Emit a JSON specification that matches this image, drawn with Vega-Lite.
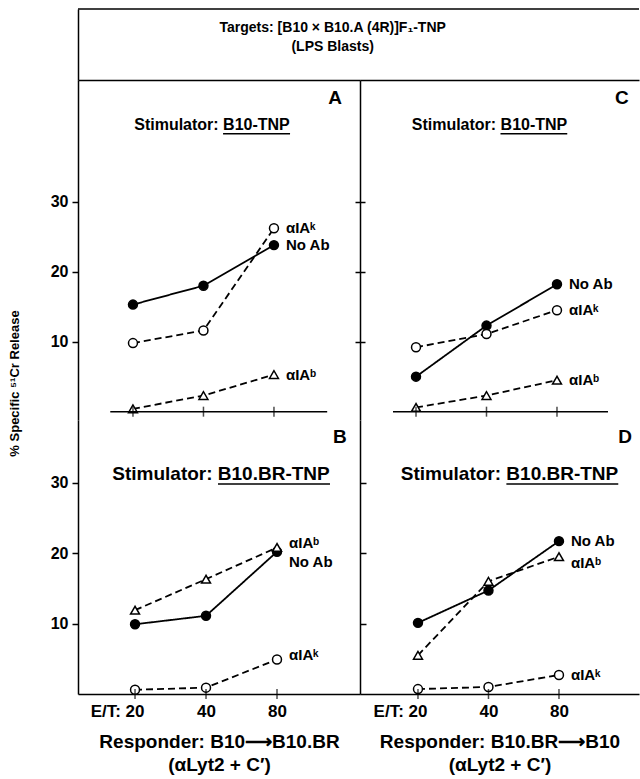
{
  "$schema": "https://vega.github.io/schema/vega-lite/v6.json",
  "padding": {"left": 8, "top": 8, "right": 0, "bottom": 4},
  "background": "white",
  "config": {
    "font": "Liberation Sans",
    "view": {"stroke": null},
    "axis": {"grid": false, "domainColor": "black", "domainWidth": 1.5, "tickColor": "black", "tickWidth": 1.5, "labelColor": "black", "titleColor": "black", "labelFont": "Liberation Sans", "titleFont": "Liberation Sans", "labelFontSize": 16, "labelFontWeight": "bold", "titleFontSize": 13, "titleFontWeight": "bold", "labelFlush": false},
    "text": {"font": "Liberation Sans", "color": "black"}
  },
  "datasets": {
    "cyto": [
      {"panel": "A", "series": "No Ab", "et": 20, "pct": 15.3},
      {"panel": "A", "series": "No Ab", "et": 40, "pct": 18.0},
      {"panel": "A", "series": "No Ab", "et": 80, "pct": 23.8},
      {"panel": "A", "series": "αIAᵏ", "et": 20, "pct": 9.8},
      {"panel": "A", "series": "αIAᵏ", "et": 40, "pct": 11.6},
      {"panel": "A", "series": "αIAᵏ", "et": 80, "pct": 26.2},
      {"panel": "A", "series": "αIAᵇ", "et": 20, "pct": 0.4},
      {"panel": "A", "series": "αIAᵇ", "et": 40, "pct": 2.3},
      {"panel": "A", "series": "αIAᵇ", "et": 80, "pct": 5.3},
      {"panel": "C", "series": "No Ab", "et": 20, "pct": 5.0},
      {"panel": "C", "series": "No Ab", "et": 40, "pct": 12.3},
      {"panel": "C", "series": "No Ab", "et": 80, "pct": 18.2},
      {"panel": "C", "series": "αIAᵏ", "et": 20, "pct": 9.2},
      {"panel": "C", "series": "αIAᵏ", "et": 40, "pct": 11.1},
      {"panel": "C", "series": "αIAᵏ", "et": 80, "pct": 14.5},
      {"panel": "C", "series": "αIAᵇ", "et": 20, "pct": 0.6},
      {"panel": "C", "series": "αIAᵇ", "et": 40, "pct": 2.3},
      {"panel": "C", "series": "αIAᵇ", "et": 80, "pct": 4.5},
      {"panel": "B", "series": "No Ab", "et": 20, "pct": 9.9},
      {"panel": "B", "series": "No Ab", "et": 40, "pct": 11.1},
      {"panel": "B", "series": "No Ab", "et": 80, "pct": 20.2},
      {"panel": "B", "series": "αIAᵇ", "et": 20, "pct": 11.9},
      {"panel": "B", "series": "αIAᵇ", "et": 40, "pct": 16.3},
      {"panel": "B", "series": "αIAᵇ", "et": 80, "pct": 20.8},
      {"panel": "B", "series": "αIAᵏ", "et": 20, "pct": 0.6},
      {"panel": "B", "series": "αIAᵏ", "et": 40, "pct": 0.9},
      {"panel": "B", "series": "αIAᵏ", "et": 80, "pct": 4.9},
      {"panel": "D", "series": "No Ab", "et": 20, "pct": 10.1},
      {"panel": "D", "series": "No Ab", "et": 40, "pct": 14.7},
      {"panel": "D", "series": "No Ab", "et": 80, "pct": 21.7},
      {"panel": "D", "series": "αIAᵇ", "et": 20, "pct": 5.5},
      {"panel": "D", "series": "αIAᵇ", "et": 40, "pct": 16.0},
      {"panel": "D", "series": "αIAᵇ", "et": 80, "pct": 19.5},
      {"panel": "D", "series": "αIAᵏ", "et": 20, "pct": 0.7},
      {"panel": "D", "series": "αIAᵏ", "et": 40, "pct": 1.0},
      {"panel": "D", "series": "αIAᵏ", "et": 80, "pct": 2.7}
    ]
  },
  "spacing": 0,
  "bounds": "flush",
  "vconcat": [
    {
      "width": 561, "height": 71,
      "resolve": {"axis": {"x": "independent", "y": "independent"}},
      "layer": [
        {
          "data": {"values": [{"row": 1, "line": "Targets: [B10 × B10.A (4R)]F₁-TNP"}, {"row": 2, "line": "(LPS Blasts)"}]},
          "mark": {"type": "text", "fontSize": 14, "fontWeight": "bold", "align": "center", "baseline": "middle"},
          "encoding": {
            "x": {"datum": 0.454, "type": "quantitative", "scale": {"domain": [0, 1]}, "axis": null},
            "y": {"field": "row", "type": "quantitative", "scale": {"domain": [0, 3.7], "reverse": true, "nice": false, "zero": false}, "axis": {"orient": "left", "domain": true, "ticks": false, "labels": false, "title": null}},
            "text": {"field": "line"}
          }
        },
        {
          "data": {"values": [{}]},
          "mark": {"type": "rule", "strokeWidth": 1.5, "color": "black"},
          "encoding": {"y": {"datum": 0, "type": "quantitative", "axis": null}}
        }
      ]
    },
    {
      "columns": 2, "spacing": 0, "bounds": "flush",
      "concat": [
        {
          "width": 282, "height": 340,
          "resolve": {"axis": {"x": "independent", "y": "independent"}},
          "layer": [
            {
              "data": {"name": "cyto"}, "transform": [{"filter": "datum.panel == 'A'"}],
              "mark": {"type": "line", "color": "black", "strokeWidth": 1.8},
              "encoding": {
                "x": {"field": "et", "type": "quantitative", "scale": {"type": "log", "base": 2, "domain": [11.65, 186.4], "nice": false}, "axis": {"orient": "top", "domain": true, "ticks": false, "labels": false, "title": null}},
                "y": {"field": "pct", "type": "quantitative", "scale": {"domain": [-1.19, 47.39], "nice": false, "zero": false}, "axis": {"orient": "left", "values": [10, 20, 30], "tickSize": 6, "labelPadding": 4, "title": "% Specific ⁵¹Cr Release", "titlePadding": 29, "titleY": 303}},
                "strokeDash": {"field": "series", "type": "nominal", "scale": {"domain": ["No Ab", "αIAᵏ", "αIAᵇ"], "range": [[1, 0], [7, 4], [7, 4]]}, "legend": null}
              }
            },
            {
              "data": {"name": "cyto"}, "transform": [{"filter": "datum.panel == 'A'"}],
              "mark": {"type": "point", "filled": true, "stroke": "black", "strokeWidth": 1.5, "size": 80, "opacity": 1},
              "encoding": {
                "x": {"field": "et", "type": "quantitative", "axis": null},
                "y": {"field": "pct", "type": "quantitative", "axis": {"orient": "right", "values": [10, 20, 30], "domain": false, "labels": false, "title": null, "tickSize": 5}},
                "shape": {"field": "series", "type": "nominal", "scale": {"domain": ["No Ab", "αIAᵏ", "αIAᵇ"], "range": ["circle", "circle", "triangle-up"]}, "legend": null},
                "fill": {"field": "series", "type": "nominal", "scale": {"domain": ["No Ab", "αIAᵏ", "αIAᵇ"], "range": ["black", "white", "white"]}, "legend": null}
              }
            },
            {
              "data": {"name": "cyto"}, "transform": [{"filter": "datum.panel == 'A' && datum.et == 80"}],
              "mark": {"type": "text", "align": "left", "baseline": "middle", "dx": 12, "fontSize": 15, "fontWeight": "bold"},
              "encoding": {
                "x": {"field": "et", "type": "quantitative", "axis": null},
                "y": {"field": "pct", "type": "quantitative", "axis": null},
                "text": {"field": "series"}
              }
            },
            {
              "data": {"name": "cyto"}, "transform": [{"filter": "datum.panel == 'A' && datum.series == 'No Ab'"}],
              "mark": {"type": "tick", "orient": "vertical", "size": 10, "thickness": 1.5, "color": "black"},
              "encoding": {
                "x": {"field": "et", "type": "quantitative", "axis": null},
                "y": {"datum": 0, "type": "quantitative", "axis": null}
              }
            },
            {
              "data": {"values": [{}]},
              "mark": {"type": "rule", "strokeWidth": 1.5, "color": "black"},
              "encoding": {"x": {"datum": 16, "type": "quantitative", "axis": null}, "x2": {"datum": 135}, "y": {"datum": 0, "type": "quantitative", "axis": null}}
            },
            {
              "data": {"values": [{"t": "Stimulator: B10-TNP"}]},
              "mark": {"type": "text", "fontSize": 16, "fontWeight": "bold", "align": "center", "baseline": "middle"},
              "encoding": {"x": {"datum": 43.5, "type": "quantitative", "axis": null}, "y": {"datum": 41.0, "type": "quantitative", "axis": null}, "text": {"field": "t"}}
            },
            {
              "data": {"values": [{}]},
              "mark": {"type": "rule", "strokeWidth": 1.5, "color": "black"},
              "encoding": {"x": {"datum": 48.5, "type": "quantitative", "axis": null}, "x2": {"datum": 93.7}, "y": {"datum": 39.7, "type": "quantitative", "axis": null}}
            },
            {
              "data": {"values": [{"t": "A"}]},
              "mark": {"type": "text", "fontSize": 19, "fontWeight": "bold", "align": "center", "baseline": "middle"},
              "encoding": {"x": {"datum": 145.8, "type": "quantitative", "axis": null}, "y": {"datum": 44.8, "type": "quantitative", "axis": null}, "text": {"field": "t"}}
            }
          ]
        },
        {
          "width": 279, "height": 340,
          "resolve": {"axis": {"x": "independent", "y": "independent"}},
          "layer": [
            {
              "data": {"name": "cyto"}, "transform": [{"filter": "datum.panel == 'C'"}],
              "mark": {"type": "line", "color": "black", "strokeWidth": 1.8},
              "encoding": {
                "x": {"field": "et", "type": "quantitative", "scale": {"type": "log", "base": 2, "domain": [11.53, 179.2], "nice": false}, "axis": {"orient": "top", "domain": true, "ticks": false, "labels": false, "title": null}},
                "y": {"field": "pct", "type": "quantitative", "scale": {"domain": [-1.19, 47.39], "nice": false, "zero": false}, "axis": {"orient": "left", "values": [10, 20, 30], "tickSize": 5, "labels": false, "title": null, "domain": true}},
                "strokeDash": {"field": "series", "type": "nominal", "scale": {"domain": ["No Ab", "αIAᵏ", "αIAᵇ"], "range": [[1, 0], [7, 4], [7, 4]]}, "legend": null}
              }
            },
            {
              "data": {"name": "cyto"}, "transform": [{"filter": "datum.panel == 'C'"}],
              "mark": {"type": "point", "filled": true, "stroke": "black", "strokeWidth": 1.5, "size": 80, "opacity": 1},
              "encoding": {
                "x": {"field": "et", "type": "quantitative", "axis": null},
                "y": {"field": "pct", "type": "quantitative", "axis": null},
                "shape": {"field": "series", "type": "nominal", "scale": {"domain": ["No Ab", "αIAᵏ", "αIAᵇ"], "range": ["circle", "circle", "triangle-up"]}, "legend": null},
                "fill": {"field": "series", "type": "nominal", "scale": {"domain": ["No Ab", "αIAᵏ", "αIAᵇ"], "range": ["black", "white", "white"]}, "legend": null}
              }
            },
            {
              "data": {"name": "cyto"}, "transform": [{"filter": "datum.panel == 'C' && datum.et == 80"}],
              "mark": {"type": "text", "align": "left", "baseline": "middle", "dx": 12, "fontSize": 15, "fontWeight": "bold"},
              "encoding": {
                "x": {"field": "et", "type": "quantitative", "axis": null},
                "y": {"field": "pct", "type": "quantitative", "axis": null},
                "text": {"field": "series"}
              }
            },
            {
              "data": {"name": "cyto"}, "transform": [{"filter": "datum.panel == 'C' && datum.series == 'No Ab'"}],
              "mark": {"type": "tick", "orient": "vertical", "size": 10, "thickness": 1.5, "color": "black"},
              "encoding": {
                "x": {"field": "et", "type": "quantitative", "axis": null},
                "y": {"datum": 0, "type": "quantitative", "axis": null}
              }
            },
            {
              "data": {"values": [{}]},
              "mark": {"type": "rule", "strokeWidth": 1.5, "color": "black"},
              "encoding": {"x": {"datum": 15.95, "type": "quantitative", "axis": null}, "x2": {"datum": 132.1}, "y": {"datum": 0, "type": "quantitative", "axis": null}}
            },
            {
              "data": {"values": [{"t": "Stimulator: B10-TNP"}]},
              "mark": {"type": "text", "fontSize": 16, "fontWeight": "bold", "align": "center", "baseline": "middle"},
              "encoding": {"x": {"datum": 41.2, "type": "quantitative", "axis": null}, "y": {"datum": 41.0, "type": "quantitative", "axis": null}, "text": {"field": "t"}}
            },
            {
              "data": {"values": [{}]},
              "mark": {"type": "rule", "strokeWidth": 1.5, "color": "black"},
              "encoding": {"x": {"datum": 45.9, "type": "quantitative", "axis": null}, "x2": {"datum": 88.5}, "y": {"datum": 39.7, "type": "quantitative", "axis": null}}
            },
            {
              "data": {"values": [{"t": "C"}]},
              "mark": {"type": "text", "fontSize": 19, "fontWeight": "bold", "align": "center", "baseline": "middle"},
              "encoding": {"x": {"datum": 151.5, "type": "quantitative", "axis": null}, "y": {"datum": 44.8, "type": "quantitative", "axis": null}, "text": {"field": "t"}}
            }
          ]
        },
        {
          "width": 282, "height": 274,
          "resolve": {"axis": {"x": "independent", "y": "independent"}},
          "layer": [
            {
              "data": {"name": "cyto"}, "transform": [{"filter": "datum.panel == 'B'"}],
              "mark": {"type": "line", "color": "black", "strokeWidth": 1.8},
              "encoding": {
                "x": {"field": "et", "type": "quantitative", "scale": {"type": "log", "base": 2, "domain": [11.46, 179.9], "nice": false}, "axis": {"orient": "bottom", "values": [20, 40, 80], "domain": true, "ticks": false, "labelPadding": 9, "labelFontSize": 17, "labelExpr": "datum.value == 20 ? 'E/T: 20' : datum.label", "labelAlign": {"condition": {"test": "datum.value == 20", "value": "right"}, "value": "center"}, "labelOffset": {"condition": {"test": "datum.value == 20", "value": 9}, "value": 0}, "title": ["Responder: B10⟶B10.BR", "(αLyt2 + C′)"], "titleFontSize": 19, "titlePadding": 13, "titleLineHeight": 23}},
                "y": {"field": "pct", "type": "quantitative", "scale": {"domain": [0, 38.9], "nice": false, "zero": false}, "axis": {"orient": "left", "values": [10, 20, 30], "tickSize": 6, "labelPadding": 4, "title": null}},
                "strokeDash": {"field": "series", "type": "nominal", "scale": {"domain": ["No Ab", "αIAᵏ", "αIAᵇ"], "range": [[1, 0], [7, 4], [7, 4]]}, "legend": null}
              }
            },
            {
              "data": {"name": "cyto"}, "transform": [{"filter": "datum.panel == 'B'"}],
              "mark": {"type": "point", "filled": true, "stroke": "black", "strokeWidth": 1.5, "size": 80, "opacity": 1},
              "encoding": {
                "x": {"field": "et", "type": "quantitative", "axis": null},
                "y": {"field": "pct", "type": "quantitative", "axis": {"orient": "right", "values": [10, 20, 30], "domain": false, "labels": false, "title": null, "tickSize": 6}},
                "shape": {"field": "series", "type": "nominal", "scale": {"domain": ["No Ab", "αIAᵏ", "αIAᵇ"], "range": ["circle", "circle", "triangle-up"]}, "legend": null},
                "fill": {"field": "series", "type": "nominal", "scale": {"domain": ["No Ab", "αIAᵏ", "αIAᵇ"], "range": ["black", "white", "white"]}, "legend": null}
              }
            },
            {
              "data": {"name": "cyto"}, "transform": [{"filter": "datum.panel == 'B' && datum.et == 80 && datum.series == 'No Ab'"}],
              "mark": {"type": "text", "align": "left", "baseline": "middle", "dx": 12, "dy": 10, "fontSize": 15, "fontWeight": "bold"},
              "encoding": {
                "x": {"field": "et", "type": "quantitative", "axis": null},
                "y": {"field": "pct", "type": "quantitative", "axis": null},
                "text": {"field": "series"}
              }
            },
            {
              "data": {"name": "cyto"}, "transform": [{"filter": "datum.panel == 'B' && datum.et == 80 && datum.series != 'No Ab'"}],
              "mark": {"type": "text", "align": "left", "baseline": "middle", "dx": 12, "dy": -4, "fontSize": 15, "fontWeight": "bold"},
              "encoding": {
                "x": {"field": "et", "type": "quantitative", "axis": null},
                "y": {"field": "pct", "type": "quantitative", "axis": null},
                "text": {"field": "series"}
              }
            },
            {
              "data": {"name": "cyto"}, "transform": [{"filter": "datum.panel == 'B' && datum.series == 'No Ab'"}],
              "mark": {"type": "tick", "orient": "vertical", "size": 10, "thickness": 1.5, "color": "black"},
              "encoding": {
                "x": {"field": "et", "type": "quantitative", "axis": null},
                "y": {"datum": 0, "type": "quantitative", "axis": null}
              }
            },
            {
              "data": {"values": [{"t": "Stimulator: B10.BR-TNP"}]},
              "mark": {"type": "text", "fontSize": 19, "fontWeight": "bold", "align": "center", "baseline": "middle"},
              "encoding": {"x": {"datum": 46.3, "type": "quantitative", "axis": null}, "y": {"datum": 31.2, "type": "quantitative", "axis": null}, "text": {"field": "t"}}
            },
            {
              "data": {"values": [{}]},
              "mark": {"type": "rule", "strokeWidth": 1.5, "color": "black"},
              "encoding": {"x": {"datum": 44.96, "type": "quantitative", "axis": null}, "x2": {"datum": 134.2}, "y": {"datum": 29.8, "type": "quantitative", "axis": null}}
            },
            {
              "data": {"values": [{"t": "B"}]},
              "mark": {"type": "text", "fontSize": 19, "fontWeight": "bold", "align": "center", "baseline": "middle"},
              "encoding": {"x": {"datum": 147.9, "type": "quantitative", "axis": null}, "y": {"datum": 36.5, "type": "quantitative", "axis": null}, "text": {"field": "t"}}
            }
          ]
        },
        {
          "width": 279, "height": 274,
          "resolve": {"axis": {"x": "independent", "y": "independent"}},
          "layer": [
            {
              "data": {"name": "cyto"}, "transform": [{"filter": "datum.panel == 'D'"}],
              "mark": {"type": "line", "color": "black", "strokeWidth": 1.8},
              "encoding": {
                "x": {"field": "et", "type": "quantitative", "scale": {"type": "log", "base": 2, "domain": [11.31, 175.7], "nice": false}, "axis": {"orient": "bottom", "values": [20, 40, 80], "domain": true, "ticks": false, "labelPadding": 9, "labelFontSize": 17, "labelExpr": "datum.value == 20 ? 'E/T: 20' : datum.label", "labelAlign": {"condition": {"test": "datum.value == 20", "value": "right"}, "value": "center"}, "labelOffset": {"condition": {"test": "datum.value == 20", "value": 9}, "value": 0}, "title": ["Responder: B10.BR⟶B10", "(αLyt2 + C′)"], "titleFontSize": 19, "titlePadding": 13, "titleLineHeight": 23}},
                "y": {"field": "pct", "type": "quantitative", "scale": {"domain": [0, 38.9], "nice": false, "zero": false}, "axis": {"orient": "left", "values": [10, 20, 30], "ticks": false, "labels": false, "title": null, "domain": true}},
                "strokeDash": {"field": "series", "type": "nominal", "scale": {"domain": ["No Ab", "αIAᵏ", "αIAᵇ"], "range": [[1, 0], [7, 4], [7, 4]]}, "legend": null}
              }
            },
            {
              "data": {"name": "cyto"}, "transform": [{"filter": "datum.panel == 'D'"}],
              "mark": {"type": "point", "filled": true, "stroke": "black", "strokeWidth": 1.5, "size": 80, "opacity": 1},
              "encoding": {
                "x": {"field": "et", "type": "quantitative", "axis": null},
                "y": {"field": "pct", "type": "quantitative", "axis": null},
                "shape": {"field": "series", "type": "nominal", "scale": {"domain": ["No Ab", "αIAᵏ", "αIAᵇ"], "range": ["circle", "circle", "triangle-up"]}, "legend": null},
                "fill": {"field": "series", "type": "nominal", "scale": {"domain": ["No Ab", "αIAᵏ", "αIAᵇ"], "range": ["black", "white", "white"]}, "legend": null}
              }
            },
            {
              "data": {"name": "cyto"}, "transform": [{"filter": "datum.panel == 'D' && datum.et == 80 && datum.series == 'αIAᵇ'"}],
              "mark": {"type": "text", "align": "left", "baseline": "middle", "dx": 12, "dy": 6, "fontSize": 15, "fontWeight": "bold"},
              "encoding": {
                "x": {"field": "et", "type": "quantitative", "axis": null},
                "y": {"field": "pct", "type": "quantitative", "axis": null},
                "text": {"field": "series"}
              }
            },
            {
              "data": {"name": "cyto"}, "transform": [{"filter": "datum.panel == 'D' && datum.et == 80 && datum.series != 'αIAᵇ'"}],
              "mark": {"type": "text", "align": "left", "baseline": "middle", "dx": 12, "dy": 0, "fontSize": 15, "fontWeight": "bold"},
              "encoding": {
                "x": {"field": "et", "type": "quantitative", "axis": null},
                "y": {"field": "pct", "type": "quantitative", "axis": null},
                "text": {"field": "series"}
              }
            },
            {
              "data": {"name": "cyto"}, "transform": [{"filter": "datum.panel == 'D' && datum.series == 'No Ab'"}],
              "mark": {"type": "tick", "orient": "vertical", "size": 10, "thickness": 1.5, "color": "black"},
              "encoding": {
                "x": {"field": "et", "type": "quantitative", "axis": null},
                "y": {"datum": 0, "type": "quantitative", "axis": null}
              }
            },
            {
              "data": {"values": [{"t": "Stimulator: B10.BR-TNP"}]},
              "mark": {"type": "text", "fontSize": 19, "fontWeight": "bold", "align": "center", "baseline": "middle"},
              "encoding": {"x": {"datum": 49.2, "type": "quantitative", "axis": null}, "y": {"datum": 31.2, "type": "quantitative", "axis": null}, "text": {"field": "t"}}
            },
            {
              "data": {"values": [{}]},
              "mark": {"type": "rule", "strokeWidth": 1.5, "color": "black"},
              "encoding": {"x": {"datum": 47.7, "type": "quantitative", "axis": null}, "x2": {"datum": 143.3}, "y": {"datum": 29.8, "type": "quantitative", "axis": null}}
            },
            {
              "data": {"values": [{"t": "D"}]},
              "mark": {"type": "text", "fontSize": 19, "fontWeight": "bold", "align": "center", "baseline": "middle"},
              "encoding": {"x": {"datum": 153.1, "type": "quantitative", "axis": null}, "y": {"datum": 36.5, "type": "quantitative", "axis": null}, "text": {"field": "t"}}
            }
          ]
        }
      ]
    }
  ]
}
